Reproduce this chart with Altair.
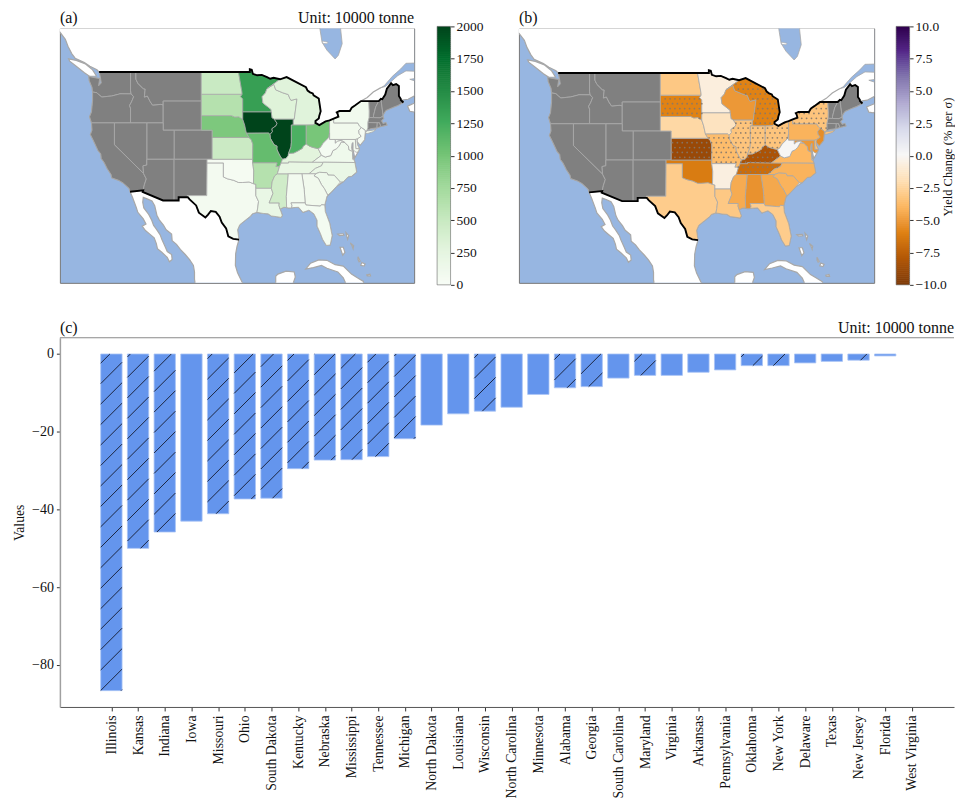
import altair as alt
import numpy as np
import pandas as pd

# ---------- bar panel values ----------
BAR_STATES = ["Illinois","Kansas","Indiana","Iowa","Missouri","Ohio","South Dakota","Kentucky","Nebraska",
              "Mississippi","Tennessee","Michigan","North Dakota","Louisiana","Wisconsin","North Carolina",
              "Minnesota","Alabama","Georgia","South Carolina","Maryland","Virginia","Arkansas","Pennsylvania",
              "Oklahoma","New York","Delaware","Texas","New Jersey","Florida","West Virginia"]
BAR_VALUES = [-86.6,-50.0,-45.8,-43.0,-41.1,-37.3,-37.1,-29.5,-27.3,-27.2,-26.4,-21.8,-18.3,-15.4,-14.7,-13.7,
              -10.4,-8.7,-8.4,-6.2,-5.5,-5.5,-4.7,-4.1,-3.0,-3.0,-2.3,-1.9,-1.6,-0.5,0.0]
BAR_HATCHED = ["Illinois","Kansas","Indiana","Missouri","Ohio","South Dakota","Kentucky","Nebraska","Mississippi",
               "Tennessee","Michigan","Wisconsin","Alabama","Georgia","Maryland","Oklahoma","New York","New Jersey"]

# ---------- map values ----------
PRODUCTION = {"North Dakota":480,"South Dakota":620,"Minnesota":1340,"Nebraska":950,"Iowa":2000,"Illinois":2000,
              "Indiana":1200,"Ohio":980,"Kansas":470,"Missouri":1080,"Wisconsin":300,"Michigan":290,"Arkansas":620,
              "Mississippi":430,"Kentucky":270,"Tennessee":210,"North Carolina":180,"Pennsylvania":90,"New York":80,
              "Texas":60,"Louisiana":190,"Oklahoma":30,"Georgia":90,"South Carolina":120,"Alabama":70,"Florida":50,
              "Virginia":110,"West Virginia":40,"Maryland":70,"Delaware":70,"New Jersey":30}
YIELD = {"North Dakota":-3.2,"South Dakota":-6.0,"Minnesota":-0.8,"Nebraska":-2.4,"Iowa":-1.7,"Illinois":-3.4,
         "Indiana":-3.4,"Ohio":-3.4,"Kansas":-9.0,"Missouri":-3.8,"Wisconsin":-5.2,"Michigan":-6.0,"Arkansas":-0.7,
         "Mississippi":-4.5,"Kentucky":-8.3,"Tennessee":-7.0,"North Carolina":-4.2,"Pennsylvania":-4.2,"New York":-3.4,
         "Texas":-3.0,"Louisiana":-3.2,"Oklahoma":-6.3,"Georgia":-4.6,"South Carolina":-4.2,"Alabama":-5.4,
         "Florida":-3.0,"Virginia":-4.0,"West Virginia":-0.05,"Maryland":-5.2,"Delaware":-3.5,"New Jersey":-5.6}
DOTTED = ["South Dakota","Michigan","Kansas","Missouri","Illinois","Indiana","Ohio","Kentucky","Tennessee","New York"]

# ---------- outlines (lon, lat) ----------
STATES = {
"Washington":[[(-122.8,49),(-117.03,49),(-117.04,46.42),(-116.92,45.99),(-118.98,46.0),(-119.3,45.93),(-120.5,45.7),(-121.2,45.65),(-122.3,45.55),(-122.8,45.85),(-123.2,46.15),(-124.0,46.25),(-124.1,46.9),(-124.6,47.8),(-124.7,48.38),(-123.1,48.15),(-122.7,48.1),(-122.9,47.1),(-122.4,47.5),(-122.6,48.4)]],
"Oregon":[[(-124.0,46.25),(-123.2,46.15),(-122.8,45.85),(-122.3,45.55),(-121.2,45.65),(-120.5,45.7),(-119.3,45.93),(-118.98,46.0),(-116.92,45.99),(-116.47,45.6),(-116.85,44.9),(-117.22,44.4),(-117.03,44.0),(-117.03,42),(-124.2,42),(-124.55,42.85),(-124.2,43.5),(-124.0,45)]],
"Idaho":[[(-117.03,49),(-116.05,49),(-116.05,48),(-115.7,47.45),(-114.7,46.7),(-114.35,46.65),(-114.5,45.55),(-113.95,45.7),(-113.45,44.95),(-113.0,44.45),(-111.5,44.55),(-111.05,44.48),(-111.05,42),(-117.03,42),(-117.03,44),(-117.22,44.4),(-116.85,44.9),(-116.47,45.6),(-116.92,45.99),(-117.04,46.42)]],
"Montana":[[(-116.05,49),(-104.05,49),(-104.05,45),(-111.05,45),(-111.05,44.48),(-111.5,44.55),(-113,44.45),(-113.45,44.95),(-113.95,45.7),(-114.5,45.55),(-114.35,46.65),(-114.7,46.7),(-115.7,47.45),(-116.05,48)]],
"Wyoming":[[(-111.05,45),(-104.05,45),(-104.05,41),(-111.05,41)]],
"Colorado":[[(-109.05,41),(-102.05,41),(-102.05,37),(-109.05,37)]],
"Utah":[[(-111.05,42),(-111.05,41),(-109.05,41),(-109.05,37),(-114.05,37),(-114.05,42)]],
"Nevada":[[(-120,42),(-114.05,42),(-114.05,36.2),(-114.75,36.1),(-114.65,35.05),(-120,39)]],
"California":[[(-124.2,42),(-120,42),(-120,39),(-114.65,35.05),(-114.15,34.3),(-114.5,33.5),(-114.72,32.72),(-117.12,32.53),(-117.3,33.0),(-118.4,33.75),(-119.2,34.1),(-120.5,34.45),(-120.6,34.9),(-121.3,35.7),(-121.9,36.6),(-122.4,37.1),(-122.5,37.75),(-123.0,38.2),(-123.8,39.5),(-124.4,40.4),(-124.1,41)]],
"Arizona":[[(-114.05,37),(-109.05,37),(-109.05,31.33),(-111.07,31.33),(-114.81,32.5),(-114.72,32.72),(-114.5,33.5),(-114.15,34.3),(-114.65,35.05),(-114.75,36.1),(-114.05,36.2)]],
"New Mexico":[[(-109.05,37),(-103,37),(-103.05,32),(-106.62,32),(-106.53,31.78),(-108.21,31.78),(-108.21,31.33),(-109.05,31.33)]],
"Vermont":[[(-73.35,45),(-71.5,45),(-72.05,44.2),(-72.46,43),(-72.46,42.73),(-73.27,42.75),(-73.25,43.6)]],
"New Hampshire":[[(-71.5,45),(-71.1,45.3),(-70.7,43.1),(-70.8,42.87),(-71.3,42.7),(-72.46,42.73),(-72.46,43),(-72.05,44.2)]],
"Maine":[[(-71.1,45.3),(-70.85,45.25),(-70.3,45.9),(-70,46.7),(-69.23,47.46),(-68.9,47.2),(-68.3,47.35),(-67.8,47.07),(-67.8,45.7),(-67.45,45.3),(-67.45,45.15),(-66.97,44.8),(-68,44.4),(-69,44.1),(-70.2,43.7),(-70.7,43.1)]],
"Massachusetts":[[(-73.5,42.05),(-73.27,42.75),(-72.46,42.73),(-71.3,42.7),(-70.8,42.87),(-70.6,42.6),(-71,42.3),(-70.7,41.9),(-70.2,42.05),(-70,41.7),(-70.6,41.6),(-71.12,41.5),(-71.38,42.02),(-71.8,42.02)]],
"Rhode Island":[[(-71.8,42.02),(-71.38,42.02),(-71.12,41.5),(-71.85,41.32)]],
"Connecticut":[[(-73.5,42.05),(-71.8,42.02),(-71.85,41.32),(-73,41.2),(-73.65,41),(-73.5,41.3)]],
"Texas":[[(-103,36.5),(-100,36.5),(-100,34.56),(-99.2,34.3),(-98.1,34.1),(-97.2,33.8),(-96.5,33.8),(-95.3,33.88),(-94.48,33.64),(-94.04,33.55),(-94.04,31.99),(-93.55,31.2),(-93.7,30.3),(-93.85,29.7),(-94.7,29.5),(-95,29.2),(-96,28.6),(-97,28),(-97.4,27.3),(-97.14,25.95),(-98.2,26.05),(-99.1,26.4),(-99.5,27.5),(-100.3,28.3),(-100.7,29.1),(-101.4,29.77),(-102.3,29.88),(-102.85,29.35),(-103.3,29.0),(-104.5,29.65),(-105.0,30.65),(-106.2,31.47),(-106.53,31.78),(-106.62,32),(-103.05,32)]],
"Oklahoma":[[(-103,37),(-94.62,37),(-94.62,36.5),(-94.43,35.4),(-94.48,33.64),(-95.3,33.88),(-96.5,33.8),(-97.2,33.8),(-98.1,34.1),(-99.2,34.3),(-100,34.56),(-100,36.5),(-103,36.5)]],
"Kansas":[[(-102.05,40),(-95.3,40),(-94.9,39.7),(-94.6,39.1),(-94.62,37),(-102.05,37)]],
"Nebraska":[[(-104.05,43),(-98.5,43),(-97.9,42.8),(-97.2,42.85),(-96.45,42.5),(-96.1,41.7),(-95.9,41.0),(-95.77,40.58),(-95.3,40),(-102.05,40),(-102.05,41),(-104.05,41)]],
"South Dakota":[[(-104.05,45.94),(-96.56,45.94),(-96.85,45.6),(-96.45,45.3),(-96.45,43.5),(-96.45,42.5),(-97.2,42.85),(-97.9,42.8),(-98.5,43),(-104.05,43)]],
"North Dakota":[[(-104.05,49),(-97.23,49),(-96.6,46.3),(-96.56,45.94),(-104.05,45.94)]],
"Minnesota":[[(-97.23,49),(-95.15,49),(-95.15,49.38),(-94.8,49.3),(-94.6,48.75),(-93.8,48.55),(-92.95,48.6),(-92,48.3),(-91.4,48.07),(-90.8,48.2),(-89.6,48.0),(-92.0,46.7),(-92.3,46.1),(-92.9,45.6),(-92.75,44.75),(-91.25,43.85),(-91.22,43.5),(-96.45,43.5),(-96.45,45.3),(-96.85,45.6),(-96.56,45.94),(-96.6,46.3)]],
"Wisconsin":[[(-92,46.7),(-90.75,47.3),(-90.4,46.55),(-89.1,46.14),(-88.1,45.9),(-87.8,45.35),(-87.6,45.1),(-86.5,45.3),(-87,42.5),(-90.65,42.5),(-91.1,42.7),(-91.22,43.5),(-91.25,43.85),(-92.75,44.75),(-92.9,45.6),(-92.3,46.1)]],
"Michigan":[[(-89.6,48),(-88.4,48.3),(-84.85,46.9),(-84.55,46.45),(-84.1,46.2),(-83.6,46.05),(-83.45,45.8),(-82.5,45.35),(-82.15,43.6),(-82.4,43),(-82.5,42.6),(-83.1,42.25),(-83.1,42),(-83.45,41.72),(-84.8,41.7),(-87.2,41.7),(-87.2,42.5),(-87,42.5),(-86.5,45.3),(-87.6,45.1),(-87.8,45.35),(-88.1,45.9),(-89.1,46.14),(-90.4,46.55),(-90.75,47.3),(-92,46.7)]],
"Iowa":[[(-96.45,43.5),(-91.22,43.5),(-91.1,42.7),(-90.65,42.5),(-90.15,41.95),(-90.35,41.6),(-91.1,41.2),(-91.0,40.8),(-91.45,40.4),(-91.73,40.6),(-95.77,40.58),(-95.9,41.0),(-96.1,41.7),(-96.45,42.5)]],
"Illinois":[[(-90.65,42.5),(-87.2,42.5),(-87.2,41.7),(-87.53,41.7),(-87.53,39.3),(-87.6,38.7),(-88.05,37.8),(-88.1,37.5),(-88.5,37.1),(-89.15,37.0),(-89.5,37.3),(-89.95,37.95),(-90.2,38.4),(-90.15,38.8),(-90.7,39),(-91.4,39.9),(-91.45,40.4),(-91.0,40.8),(-91.1,41.2),(-90.35,41.6),(-90.15,41.95)]],
"Missouri":[[(-95.77,40.58),(-91.73,40.6),(-91.45,40.4),(-91.4,39.9),(-90.7,39),(-90.15,38.8),(-90.2,38.4),(-89.95,37.95),(-89.5,37.3),(-89.15,37),(-89.4,36.5),(-89.7,36),(-90.37,36),(-90.15,36.5),(-94.62,36.5),(-94.62,37),(-94.6,39.1),(-94.9,39.7),(-95.3,40)]],
"Arkansas":[[(-94.62,36.5),(-90.15,36.5),(-90.37,36),(-89.7,36),(-90.1,35),(-90.6,34.7),(-91.05,33.9),(-91.2,33),(-94.04,33),(-94.04,33.55),(-94.48,33.64),(-94.43,35.4)]],
"Louisiana":[[(-94.04,33),(-91.2,33),(-90.9,32.3),(-91.6,31),(-89.75,31),(-89.8,30.65),(-89.6,30.15),(-89.2,29.3),(-89.4,29.0),(-90.2,29.1),(-91.2,29.2),(-91.8,29.5),(-92.7,29.55),(-93.85,29.7),(-93.7,30.3),(-93.55,31.2),(-94.04,31.99)]],
"Mississippi":[[(-90.1,35),(-88.2,35),(-88.1,34.9),(-88.45,31.9),(-88.4,30.35),(-88.9,30.4),(-89.6,30.15),(-89.8,30.65),(-89.75,31),(-91.6,31),(-90.9,32.3),(-91.2,33),(-91.05,33.9),(-90.6,34.7)]],
"Tennessee":[[(-89.7,36),(-89.4,36.5),(-88.05,36.5),(-88.05,36.65),(-83.68,36.6),(-81.68,36.59),(-82.0,36.1),(-83.1,35.75),(-84.3,35.0),(-88.2,35),(-90.1,35)]],
"Kentucky":[[(-89.4,36.5),(-89.15,37),(-88.5,37.1),(-88.1,37.5),(-88.05,37.8),(-87.1,37.85),(-86.3,38.15),(-85.5,38.5),(-85.4,38.75),(-84.8,39.1),(-84.2,38.8),(-83.7,38.65),(-82.6,38.45),(-82.0,37.55),(-83.68,36.6),(-88.05,36.65),(-88.05,36.5)]],
"Indiana":[[(-87.53,41.7),(-84.8,41.7),(-84.8,39.1),(-85.4,38.75),(-85.5,38.5),(-86.3,38.15),(-87.1,37.85),(-88.05,37.8),(-87.6,38.7),(-87.53,39.3)]],
"Ohio":[[(-84.8,41.7),(-83.45,41.72),(-83.1,42.0),(-82.4,41.7),(-81.25,42.2),(-80.52,42.35),(-80.52,40.64),(-80.65,40.0),(-81.7,39.2),(-82.2,38.6),(-82.6,38.45),(-83.7,38.65),(-84.2,38.8),(-84.8,39.1)]],
"Pennsylvania":[[(-80.52,42.35),(-79.76,42.6),(-79.76,42),(-75.35,42),(-75.05,41.6),(-74.7,41.36),(-75.15,40.95),(-75.1,40.55),(-74.72,40.15),(-75.4,39.8),(-75.79,39.72),(-80.52,39.72),(-80.52,40.64)]],
"New York":[[(-79.76,42),(-79.76,42.6),(-78.9,42.85),(-79.05,43.27),(-79.2,43.45),(-78.7,43.63),(-76.8,43.63),(-76.45,44.1),(-75.8,44.43),(-74.75,45),(-73.35,45),(-73.25,43.6),(-73.27,42.75),(-73.5,42.05),(-73.5,41.3),(-73.65,41),(-73.9,40.75),(-74.0,41.0),(-74.7,41.36),(-75.05,41.6),(-75.35,42)],
            [(-74.05,40.6),(-73.7,40.9),(-72.6,41),(-72,41.1),(-72.5,40.8),(-73.5,40.55)]],
"New Jersey":[[(-74.7,41.36),(-74,41),(-73.95,40.75),(-74,40.5),(-74.1,39.7),(-74.9,38.95),(-75.5,39.5),(-75.4,39.8),(-74.72,40.15),(-75.1,40.55),(-75.15,40.95)]],
"Delaware":[[(-75.79,39.72),(-75.4,39.8),(-75.5,39.5),(-75.4,39),(-75.05,38.45),(-75.7,38.46)]],
"Maryland":[[(-79.48,39.72),(-75.79,39.72),(-75.7,38.46),(-75.05,38.45),(-75.25,38.03),(-75.65,37.95),(-76.2,38.3),(-76.2,39.3),(-76.4,39.2),(-76.5,38.5),(-76.3,38.05),(-77.0,38.3),(-77.05,38.8),(-77.5,39.1),(-77.75,39.32),(-78.4,39.6),(-79.05,39.47),(-79.48,39.2)]],
"Virginia":[[(-83.68,36.6),(-82.0,37.55),(-81.3,37.3),(-80.3,37.5),(-79.9,38.2),(-79.3,38.42),(-78.85,38.75),(-78.35,39.4),(-77.75,39.32),(-77.5,39.1),(-77.05,38.8),(-77.0,38.3),(-76.3,38.05),(-76.3,37.0),(-76.0,36.9),(-75.87,36.55),(-81.68,36.59)]],
"West Virginia":[[(-82.6,38.45),(-82.2,38.6),(-81.7,39.2),(-80.65,40),(-80.52,40.64),(-80.52,39.72),(-79.48,39.72),(-79.48,39.2),(-79.05,39.47),(-78.4,39.6),(-77.75,39.32),(-78.35,39.4),(-78.85,38.75),(-79.3,38.42),(-79.9,38.2),(-80.3,37.5),(-81.3,37.3),(-82.0,37.55)]],
"North Carolina":[[(-81.68,36.59),(-75.87,36.55),(-75.55,35.25),(-76.5,34.65),(-77.1,34.6),(-78.0,33.9),(-78.55,33.86),(-79.67,34.8),(-80.8,34.82),(-80.93,35.1),(-81.05,35.15),(-82.35,35.2),(-83.1,35),(-84.3,35),(-83.1,35.75),(-82,36.1)]],
"South Carolina":[[(-83.1,35),(-82.35,35.2),(-81.05,35.15),(-80.93,35.1),(-80.8,34.82),(-79.67,34.8),(-78.55,33.86),(-79.2,33.3),(-80.2,32.5),(-80.85,32.05),(-81.5,33.0),(-82.0,33.5),(-82.6,34.4),(-83.35,34.7)]],
"Georgia":[[(-85.6,35),(-84.3,35),(-83.1,35),(-83.35,34.7),(-82.6,34.4),(-82,33.5),(-81.5,33),(-80.85,32.05),(-81.0,31.9),(-81.4,30.7),(-82.0,30.75),(-82.2,30.55),(-84.85,30.7),(-85.0,31),(-85.1,32.1),(-85.18,32.87)]],
"Alabama":[[(-88.2,35),(-85.6,35),(-85.18,32.87),(-85.1,32.1),(-85,31),(-87.6,31),(-87.4,30.65),(-87.5,30.3),(-88,30.3),(-88.4,30.35),(-88.45,31.9),(-88.1,34.9)]],
"Florida":[[(-87.6,31),(-85,31),(-84.85,30.7),(-82.2,30.55),(-82,30.75),(-81.4,30.7),(-81.3,29.8),(-80.5,28.2),(-80.05,26.5),(-80.4,25.2),(-81.1,25.15),(-81.8,26),(-82.2,26.8),(-82.8,27.8),(-82.8,28.6),(-83.4,29.5),(-84.3,30),(-85.4,29.7),(-86.2,30.4),(-87.2,30.35),(-87.5,30.3),(-87.4,30.65)]],
}

LAND = [
 [(-131,56),(-131,54.8),(-130,54.5),(-129,53.5),(-128.5,52.5),(-127.8,51.5),(-127.2,50.9),(-125.5,50.3),(-124.5,49.8),(-123.2,49.3),(-122.8,49.0),(-122.6,48.4),(-122.4,47.5),(-122.9,47.1),(-122.7,48.1),(-123.1,48.15),(-124.7,48.38),(-124.6,47.8),(-124.1,46.9),(-124.0,46.25),(-124.0,45),(-124.2,43.5),(-124.55,42.85),(-124.2,42),(-124.1,41),(-124.4,40.4),(-123.8,39.5),(-123.0,38.2),(-122.5,37.75),(-122.4,37.1),(-121.9,36.6),(-121.3,35.7),(-120.6,34.9),(-120.5,34.45),(-119.2,34.1),(-118.4,33.75),(-117.3,33.0),(-117.12,32.53),
  (-116.7,31.8),(-116,30.4),(-115.7,29.7),(-114.7,28.8),(-114.2,28.1),(-114.9,27.8),(-114.3,27.2),(-113.5,26.7),(-112.7,26.2),(-112.3,25.4),(-112.1,24.7),(-111.3,24.2),(-110.3,23.5),(-109.9,22.9),(-109.4,23.2),(-109.5,23.9),(-110.3,24.3),(-110.7,25.0),(-111.3,26.0),(-111.6,26.6),(-112.3,27.4),(-112.8,27.9),(-113.2,28.7),(-113.7,29.4),(-114.6,30.3),(-114.8,31.1),(-114.7,31.75),
  (-114.0,31.55),(-113.1,31.25),(-112.6,30.6),(-112.2,29.3),(-111.8,28.7),(-111.0,27.95),(-110.5,27.3),(-109.5,26.7),(-109.4,25.8),(-108.6,25.3),(-107.9,24.6),(-107,23.9),(-106.2,23.2),(-105.5,22.4),(-105.3,21.5),(-105.3,20.5),(-105.0,19),(-96.2,19),(-96.5,20),(-97.4,21.4),(-97.8,22.4),(-97.75,24),(-97.5,25),(-97.14,25.95),(-97.4,27.3),(-97,28),(-96,28.6),(-95,29.2),(-94.7,29.5),(-93.85,29.7),(-92.7,29.55),(-91.8,29.5),(-91.2,29.2),(-90.2,29.1),(-89.4,29.0),(-89.2,29.3),(-89.6,30.15),(-88.9,30.4),(-88,30.3),(-87.2,30.35),(-86.2,30.4),(-85.4,29.7),(-84.3,30.0),(-83.4,29.5),(-82.8,28.6),(-82.8,27.8),(-82.2,26.8),(-81.8,26),(-81.1,25.15),(-80.4,25.2),(-80.05,26.5),(-80.5,28.2),(-81.3,29.8),(-81.4,30.7),(-81.0,31.9),(-80.2,32.5),(-79.2,33.3),(-78.0,33.9),(-77.1,34.6),(-76.5,34.65),(-75.55,35.25),(-75.87,36.55),(-76,36.9),(-76.3,37.6),(-76.4,38.3),(-76.4,39.2),(-76.1,39.4),(-76.2,38.3),(-75.9,37.2),(-75.25,38.03),(-75.05,38.45),(-75.4,39),(-75.5,39.5),(-74.9,38.95),(-74.1,39.7),(-74,40.5),(-73.95,40.75),(-73.65,41),(-73,41.2),(-71.85,41.32),(-71.12,41.5),(-70.6,41.6),(-70,41.7),(-70.2,42.05),(-70.7,41.9),(-71,42.3),(-70.6,42.6),(-70.7,43.1),(-70.2,43.7),(-69,44.1),(-68,44.4),(-66.97,44.8),(-67.1,45.15),(-66.1,45.25),(-65,45.7),(-64,46),(-64,56)],
 [(-96,19),(-90.4,19),(-90.4,20.9),(-90,21.2),(-88.5,21.6),(-87,21.5),(-86.8,20.8),(-87.4,19.5),(-87.5,19)],
 [(-84.9,21.9),(-84,22.7),(-82.5,23.15),(-81,23.1),(-79.5,22.5),(-78,22.3),(-76.5,21.2),(-75.5,20.75),(-74.3,20.2),(-74.3,19.9),(-77.5,19.85),(-78,20.7),(-79,21.5),(-81,22),(-82,22.4),(-83.5,22.1)],
 [(-128.4,50.8),(-127,50.6),(-125.3,50.1),(-124,49.3),(-123.3,48.45),(-124.5,48.4),(-125.5,48.9),(-127,49.8),(-128.2,50.5)],
 [(-66.2,44.3),(-65.8,43.6),(-65,43.5),(-64,44),(-64,45),(-65,44.7),(-65.8,44.45)],
 [(-78.6,24.9),(-78.0,24.9),(-77.7,24.2),(-78.1,23.8)],
 [(-79,26.7),(-78,26.75),(-77.9,26.55),(-78.7,26.5)],
 [(-77.5,26.9),(-77.0,26.5),(-77.2,26),(-77.4,26.5)],
 [(-76.7,25.5),(-76.1,25.1),(-76.2,24.7),(-76.4,25.1)],
 [(-75.3,23.6),(-74.9,23.0),(-75.1,22.9),(-75.3,23.2)],
 [(-73.7,21.1),(-73.1,21.2),(-73.0,20.95),(-73.6,20.95)],
 [(-74.6,22.8),(-74.0,22.6),(-74.2,22.3),(-74.8,22.4)],
]
WATER = [
 [(-82.4,56),(-82.3,55),(-81.9,53.1),(-81,52),(-79.5,50.8),(-78.9,51.3),(-78.2,52.9),(-78.5,55),(-78.5,56)],
 [(-64,50.25),(-66.5,50.2),(-67.5,49.4),(-69,48.4),(-70.5,47.1),(-71.1,46.85),(-70.3,47.0),(-69.2,47.7),(-68,48.5),(-66.5,49.15),(-64.5,49.1),(-64.2,48.5),(-64.8,48.1),(-65.8,48.0),(-65,47.8),(-64,47.6)],
]
ISLET = [(-81.8,53.25),(-80.8,53.1),(-81.0,52.9),(-81.8,52.95)]
RIVER = [(-71.1,46.85),(-72.5,46.25),(-73.6,45.5),(-74.75,45.0)]
CANADA_LINE = [(-122.8,49),(-95.15,49),(-95.15,49.38),(-94.8,49.3),(-94.6,48.75),(-93.8,48.55),(-92.95,48.6),(-92,48.3),(-91.4,48.07),(-90.8,48.2),(-89.6,48.0),(-88.4,48.3),(-84.85,46.9),(-84.55,46.45),(-84.1,46.2),(-83.6,46.05),(-83.45,45.8),(-82.5,45.35),(-82.15,43.6),(-82.4,43),(-82.5,42.6),(-83.1,42.25),(-83.1,42),(-82.4,41.7),(-81.25,42.2),(-80.52,42.35),(-79.76,42.6),(-78.9,42.85),(-79.05,43.27),(-79.2,43.45),(-78.7,43.63),(-76.8,43.63),(-76.45,44.1),(-75.8,44.43),(-74.75,45),(-71.5,45),(-71.1,45.3),(-70.85,45.25),(-70.3,45.9),(-70,46.7),(-69.23,47.46),(-68.9,47.2),(-68.3,47.35),(-67.8,47.07),(-67.8,45.7),(-67.45,45.3),(-67.45,45.15),(-66.97,44.8)]
MEXICO_LINE = [(-117.12,32.53),(-114.72,32.72),(-114.81,32.5),(-111.07,31.33),(-108.21,31.33),(-108.21,31.78),(-106.53,31.78),(-106.2,31.47),(-105.0,30.65),(-104.5,29.65),(-103.3,29.0),(-102.85,29.35),(-102.3,29.88),(-101.4,29.77),(-100.7,29.1),(-100.3,28.3),(-99.5,27.5),(-99.1,26.4),(-98.2,26.05),(-97.14,25.95)]

SERIF = "Liberation Serif"
LON0, LON1, LAT0, LAT1 = -130, -65, 20, 55
MAP_H = 255
OCEAN, GRAY, COAST = "#97b6e1", "#808080", "#a8a8a8"
TXT = "#111111"
TICK_A = [0,250,500,750,1000,1250,1500,1750,2000]
TICK_B = [-10,-7.5,-5,-2.5,0,2.5,5,7.5,10]
GREENS = ["#f7fcf5","#e5f5e0","#c7e9c0","#a1d99b","#74c476","#41ab5d","#238b45","#006d2c","#00441b"]
ORPU = ["#7f3b08","#b35806","#e08214","#fdb863","#fee0b6","#f7f7f7","#d8daeb","#b2abd2","#8073ac","#542788","#2d004b"]
LEFT_EXTENT = 48


def inside(pt, ring):
    x, y = pt
    hit = False
    for i in range(len(ring)):
        (x1, y1), (x2, y2) = ring[i], ring[i - 1]
        if (y1 > y) != (y2 > y) and x < x1 + (y - y1) * (x2 - x1) / (y2 - y1):
            hit = not hit
    return hit


def map_panel(width, values, stops, colors, label, unit, cb_left, cb_ticks, cb_fmt, side_title):
    dom = [stops[0], stops[-1]]
    scale = alt.Scale(domain=stops, range=colors, clamp=True)
    kx = width / (LON1 - LON0)
    ky = MAP_H / (LAT1 - LAT0)
    r = ky / kx
    proj = alt.Projection(type="identity", reflectY=True, scale=kx, translate=[-LON0 * kx, LAT1 * ky])

    def conv(ring):
        pts = [[float(a), float(b) * r] for a, b in ring]
        return pts + [pts[0]]

    def poly(rings, **props):
        return {"type": "Feature", "properties": props,
                "geometry": {"type": "MultiPolygon", "coordinates": [[conv(x)] for x in rings]}}

    def lines(paths):
        return {"type": "Feature", "properties": {},
                "geometry": {"type": "MultiLineString", "coordinates": [[[a, b * r] for a, b in p] for p in paths]}}

    def geo(feats, **mk):
        return alt.Chart(alt.Data(values=feats)).mark_geoshape(clip=True, **mk).project(**proj.to_dict())

    layers = [
        geo([poly(LAND)], fill="white", stroke=COAST, strokeWidth=1.2),
        geo([poly(WATER)], fill=OCEAN, stroke=COAST, strokeWidth=0.8),
        geo([poly([ISLET])], fill="white", stroke=COAST, strokeWidth=0.6),
        geo([lines([RIVER])], filled=False, stroke=COAST, strokeWidth=1.2),
        geo([poly(STATES[s]) for s in STATES if s not in values], fill=GRAY, stroke=COAST, strokeWidth=0.9),
        geo([poly(STATES[s], state=s, v=values[s]) for s in STATES if s in values],
            stroke=COAST, strokeWidth=0.8).encode(
            color=alt.Color("properties.v:Q", scale=scale, legend=None)),
    ]
    if label == "(b)":
        rows = []
        step = 4.9
        for s in DOTTED:
            ring = STATES[s][0]
            for j in range(int(MAP_H / step) + 1):
                py = j * step + 1.0
                for i in range(int(width / step) + 2):
                    px = i * step + (step / 2 if j % 2 else 0.0)
                    lon, lat = LON0 + px / kx, LAT1 - py / ky
                    if inside((lon, lat), ring):
                        rows.append({"lon": lon, "lat": lat * r})
        layers.append(
            alt.Chart(pd.DataFrame(rows)).mark_circle(size=3.2, color="#85786a", opacity=0.9, clip=True)
            .encode(longitude="lon:Q", latitude="lat:Q").project(**proj.to_dict()))
    layers.append(geo([lines([CANADA_LINE, MEXICO_LINE])], filled=False, stroke="black", strokeWidth=1.9))

    # colour bar
    ramp = np.linspace(dom[0], dom[1], 129)
    st = ramp[1] - ramp[0]
    ramp_df = pd.DataFrame({"v": ramp[:-1], "v2": np.minimum(ramp[:-1] + st * 1.3, dom[1])})
    ys = alt.Scale(domain=dom, range=[257, -2], nice=False, zero=False)
    axis = alt.Axis(orient="right", offset=cb_left + 13.5 - width, values=cb_ticks, title=None, grid=False,
                    domain=False, tickSize=3.5, tickColor="#333", labelPadding=2, labelFontSize=13.5,
                    labelFont=SERIF, labelColor=TXT, labelFlush=False, labelOverlap=False, labelExpr=cb_fmt)
    layers.append(alt.Chart(ramp_df).mark_rect().encode(
        x=alt.value(cb_left), x2=alt.value(cb_left + 13.5),
        y=alt.Y("v:Q", scale=ys, axis=axis), y2=alt.Y2("v2:Q"),
        color=alt.Color("v:Q", scale=scale, legend=None)))
    layers.append(alt.Chart(pd.DataFrame({"a": [dom[0]], "b": [dom[1]]})).mark_rect(
        fill=None, stroke="#666", strokeWidth=0.6).encode(
        x=alt.value(cb_left), x2=alt.value(cb_left + 13.5), y=alt.Y("a:Q", scale=ys, axis=axis), y2=alt.Y2("b:Q")))

    def txt(t, x, y, align="left", size=16, **kw):
        return alt.Chart(pd.DataFrame({"t": [t]})).mark_text(
            font=SERIF, fontSize=size, align=align, baseline="alphabetic", color=TXT, **kw).encode(
            x=alt.value(x), y=alt.value(y), text="t:N")

    layers.append(txt(label, 0, -5))
    if unit:
        layers.append(txt(unit, width, -5, align="right"))
    if side_title:
        layers.append(txt(side_title, cb_left + 56, 129, align="center", size=12.5, angle=270))
    if label == "(a)":
        # keeps the left edge of the top row in line with the bar panel's axis title
        layers.append(alt.Chart(pd.DataFrame({"k": [0]})).mark_rule(opacity=0).encode(
            x=alt.value(-LEFT_EXTENT), y=alt.value(0), y2=alt.value(1)))
    return alt.layer(*layers).properties(width=width, height=MAP_H,
                                         view=alt.ViewConfig(fill=OCEAN, stroke="#777", strokeWidth=1))


panel_a = map_panel(355, PRODUCTION, TICK_A, GREENS, "(a)", "Unit: 10000 tonne", 378, TICK_A,
                    "format(datum.value, 'd')", None)
panel_b = map_panel(356, YIELD, [-10,-8,-6,-4,-2,0,2,4,6,8,10], ORPU, "(b)", None, 378, TICK_B,
                    "replace(format(datum.value, '.1f'), '-', '\u2212')", "Yield Change (% per \u03c3)")

# ---------- bar panel ----------
C_W, C_H = 896, 370
PX_PER_BAR = 26.74
X_MIN = -1.93
X_MAX = X_MIN + C_W / PX_PER_BAR
Y_MIN, Y_MAX = -90.8, 4.18
BAR_HALF = 0.4
PLOT_LEFT, PLOT_TOP = 59, 338
HATCH_STEP, HATCH_PHASE = 20.5, 12.4

bars = pd.DataFrame({"state": BAR_STATES, "value": BAR_VALUES, "i": range(len(BAR_STATES))})
bars["x0"] = bars["i"] - BAR_HALF
bars["x1"] = bars["i"] + BAR_HALF
bars["zero"] = 0.0
bars = bars[bars["value"] < 0]

ky_c = C_H / (Y_MAX - Y_MIN)
segments = []
for idx, st_name in enumerate(BAR_STATES):
    if st_name not in BAR_HATCHED:
        continue
    val = BAR_VALUES[idx]
    xa = PLOT_LEFT + (idx - BAR_HALF - X_MIN) * PX_PER_BAR
    xb = PLOT_LEFT + (idx + BAR_HALF - X_MIN) * PX_PER_BAR
    ya = PLOT_TOP + (Y_MAX - 0) * ky_c
    yb = PLOT_TOP + (Y_MAX - val) * ky_c
    n0 = int((xa + ya - HATCH_PHASE) // HATCH_STEP) + 1
    n1 = int((xb + yb - HATCH_PHASE) // HATCH_STEP)
    for n in range(n0, n1 + 1):
        c = HATCH_PHASE + n * HATCH_STEP
        x1 = max(xa, c - yb)
        x2 = min(xb, c - ya)
        if x2 <= x1:
            continue
        segments.append({
            "x": (x1 - PLOT_LEFT) / PX_PER_BAR + X_MIN, "x2": (x2 - PLOT_LEFT) / PX_PER_BAR + X_MIN,
            "y": Y_MAX - ((c - x1) - PLOT_TOP) / ky_c, "y2": Y_MAX - ((c - x2) - PLOT_TOP) / ky_c})
hatch = pd.DataFrame(segments)

name_expr = "[" + ",".join("'" + s + "'" for s in BAR_STATES) + "][datum.value]"
xscale = alt.Scale(domain=[X_MIN, X_MAX], nice=False, zero=False)
yscale = alt.Scale(domain=[Y_MIN, Y_MAX], nice=False, zero=False)
xaxis = alt.Axis(values=list(range(len(BAR_STATES))), labelExpr=name_expr, labelAngle=270, labelAlign="right",
                 labelBaseline="middle", labelFont=SERIF, labelFontSize=13.8, labelColor=TXT, labelPadding=4,
                 labelOverlap=False, labelFlush=False, labelBound=False, title=None, grid=False, tickSize=4,
                 tickColor="#333", domainColor="#555", domainWidth=1)
yaxis = alt.Axis(values=[-80, -60, -40, -20, 0], labelFont=SERIF, labelFontSize=14, labelColor=TXT,
                 labelExpr="replace(format(datum.value, 'd'), '-', '\u2212')", labelPadding=3,
                 title="Values", titleFont=SERIF, titleFontSize=13.7, titleFontWeight="normal", titleColor=TXT,
                 titlePadding=5, grid=False, tickSize=3.5, tickColor="#333", domainColor="#a0a0a0", domainWidth=1.5)

bar_layer = alt.Chart(bars).mark_rect(fill="#6495ED", stroke="#a9c4f5", strokeWidth=0.8).encode(
    x=alt.X("x0:Q", scale=xscale, axis=xaxis), x2=alt.X2("x1:Q"),
    y=alt.Y("zero:Q", scale=yscale, axis=yaxis), y2=alt.Y2("value:Q"))
hatch_layer = alt.Chart(hatch).mark_rule(color="#141a2e", strokeWidth=0.9).encode(
    x=alt.X("x:Q", scale=xscale, axis=xaxis), x2=alt.X2("x2:Q"),
    y=alt.Y("y:Q", scale=yscale, axis=yaxis), y2=alt.Y2("y2:Q"))
top_spine = alt.Chart(pd.DataFrame({"k": [0]})).mark_rule(color="#8a8a8a", strokeWidth=1.2).encode(
    x=alt.value(0), x2=alt.value(C_W), y=alt.value(0))
label_c = alt.Chart(pd.DataFrame({"t": ["(c)"]})).mark_text(
    font=SERIF, fontSize=16, align="left", baseline="alphabetic", color=TXT).encode(
    x=alt.value(0), y=alt.value(-5), text="t:N")
unit_c = alt.Chart(pd.DataFrame({"t": ["Unit: 10000 tonne"]})).mark_text(
    font=SERIF, fontSize=16, align="right", baseline="alphabetic", color=TXT).encode(
    x=alt.value(C_W), y=alt.value(-5), text="t:N")
panel_c = alt.layer(bar_layer, hatch_layer, top_spine, label_c, unit_c).properties(
    width=C_W, height=C_H, view=alt.ViewConfig(stroke=None))

top = alt.hconcat(panel_a, panel_b, spacing=105, bounds="flush").resolve_scale(color="independent")
chart = alt.vconcat(top, panel_c, spacing=28).resolve_scale(color="independent").properties(
    padding={"left": 3, "top": 0.6, "right": 0, "bottom": 0}, background="white")
chart.save("out.html", embed_options={"renderer": "svg", "actions": False})
